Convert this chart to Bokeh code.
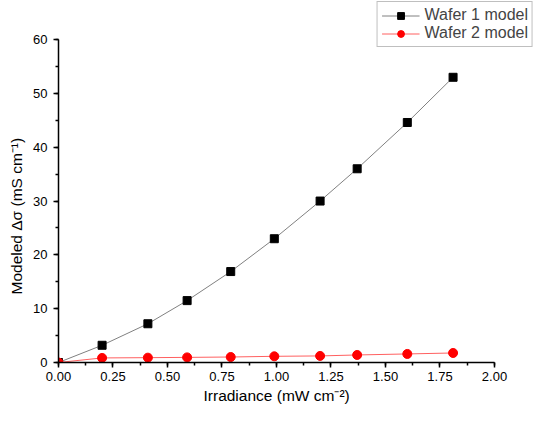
from bokeh.plotting import figure
from bokeh.models import Range1d, SingleIntervalTicker, NumeralTickFormatter, Title
from bokeh.embed import file_html
from bokeh.resources import INLINE

irradiance = [0.0, 0.20, 0.41, 0.59, 0.79, 0.99, 1.20, 1.37, 1.60, 1.81]
wafer1 = [0.0, 3.2, 7.2, 11.5, 16.9, 23.0, 30.0, 36.0, 44.6, 53.0]
wafer2 = [0.0, 0.85, 0.9, 0.95, 1.02, 1.15, 1.22, 1.4, 1.59, 1.77]

x_label = "Irradiance (mW cm\u207b\u00b2)"
y_label = "Modeled \u0394\u03c3 (mS cm\u207b\u00b9)"

FONT = "Liberation Sans"

p = figure(width=534, height=406, output_backend="svg", toolbar_location=None,
           x_range=Range1d(0, 2.1835), y_range=Range1d(0, 67.27),
           min_border_left=58, min_border_right=0, min_border_top=0, min_border_bottom=44)
p.outline_line_color = None
p.grid.grid_line_color = None

p.line(irradiance, wafer1, line_color="#808080", line_width=1, legend_label="Wafer 1 model")
p.scatter(irradiance, wafer1, marker="square", size=8, fill_color="black", line_color="black",
          legend_label="Wafer 1 model")
p.line(irradiance, wafer2, line_color="#ff6060", line_width=1, legend_label="Wafer 2 model")
p.scatter(irradiance, wafer2, marker="circle", size=9, fill_color="#ff0000", line_color="#ff0000",
          legend_label="Wafer 2 model")

p.xaxis.bounds = (0, 2)
p.yaxis.bounds = (0, 60)
p.xaxis.ticker = SingleIntervalTicker(interval=0.25, num_minor_ticks=2)
p.yaxis.ticker = SingleIntervalTicker(interval=10, num_minor_ticks=2)
p.xaxis.formatter = NumeralTickFormatter(format="0.00")
for ax in (p.xaxis, p.yaxis):
    ax.axis_line_width = 1.5
    ax.axis_line_color = "black"
    ax.major_tick_line_width = 1.5
    ax.minor_tick_line_width = 1.5
    ax.major_tick_out = 5
    ax.major_tick_in = 0
    ax.minor_tick_out = 3
    ax.minor_tick_in = 0
    ax.major_label_text_font = FONT
    ax.major_label_text_font_size = "13px"
    ax.major_label_text_color = "black"
p.xaxis.major_label_standoff = 4
p.yaxis.major_label_standoff = 6

xt = Title(text=x_label, align="left", offset=145, standoff=3,
           text_font=FONT, text_font_size="15.5px", text_font_style="normal", text_color="black")
p.add_layout(xt, "below")
yt = Title(text=y_label, align="left", offset=68, standoff=11,
           text_font=FONT, text_font_size="15.5px", text_font_style="normal", text_color="black")
p.add_layout(yt, "left")

lg = p.legend[0]
lg.location = "top_right"
lg.margin = 1
lg.padding = 4
lg.spacing = 0
lg.label_standoff = 5
lg.label_text_font = FONT
lg.label_text_font_size = "16px"
lg.label_height = 17
lg.glyph_height = 17
lg.glyph_width = 38
lg.border_line_color = "#808080"
lg.border_line_width = 1
lg.background_fill_alpha = 1

open("out.html", "w").write(file_html(p, INLINE))
